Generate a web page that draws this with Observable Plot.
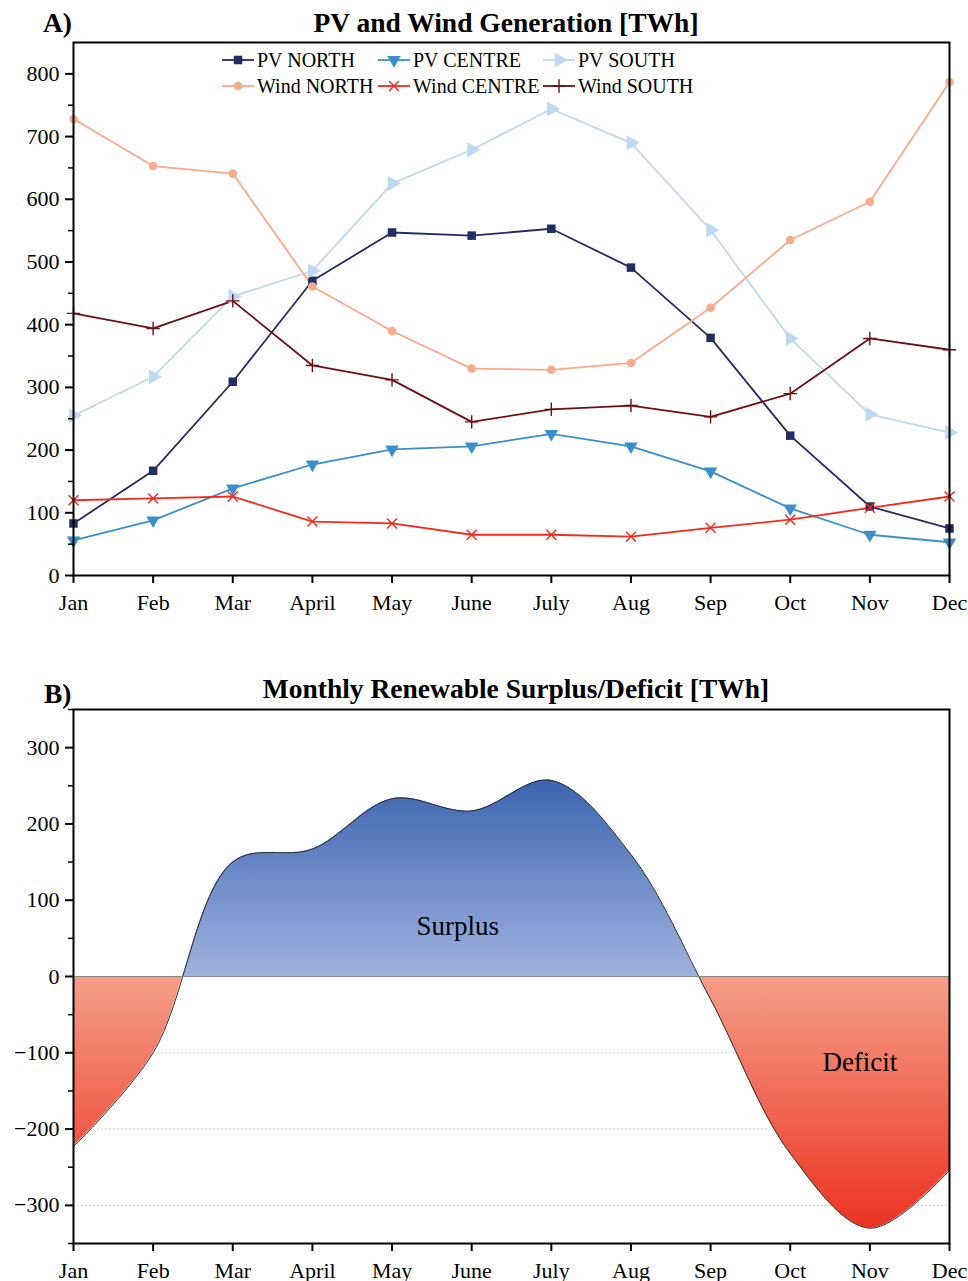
<!DOCTYPE html>
<html><head><meta charset="utf-8">
<script src="https://cdn.jsdelivr.net/npm/d3@7"></script>
<script src="https://cdn.jsdelivr.net/npm/@observablehq/plot@0.6"></script>
<style>
html,body{margin:0;padding:0;background:#fff;overflow:hidden;}
#root{position:relative;width:968px;height:1281px;font-family:"Liberation Serif","Times New Roman",serif;color:#000;}
.abs{position:absolute;white-space:nowrap;}
.title{font-weight:bold;font-size:27.5px;line-height:27px;}
.legtxt{font-size:20px;line-height:24px;height:24px;}
</style></head><body><div id="root"></div>
<script>
// ---------- data ----------
const months = ["Jan","Feb","Mar","April","May","June","July","Aug","Sep","Oct","Nov","Dec"];
const pvNorth    = [83,167,309,470,547,542,553,491,379,223,110,75];
const pvCentre   = [56,88,139,177,201,206,226,206,166,107,65,53];
const pvSouth    = [255,317,445,486,625,679,744,690,551,378,257,228];
const windNorth  = [728,653,641,461,390,330,328,339,427,535,596,787];
const windCentre = [120,123,126,86,83,65,65,62,76,89,108,126];
const windSouth  = [418,394,438,335,312,245,265,271,253,290,378,360];
const seriesNames = ["PV NORTH","PV CENTRE","PV SOUTH","Wind NORTH","Wind CENTRE","Wind SOUTH"];
const balance = [-223,-100,150,167,233,217,257,160,-30,-232,-330,-254];
const yTicksA = [0,100,200,300,400,500,600,700,800];
const yTicksB = [-300,-200,-100,0,100,200,300];
const gridB = [-100,-200,-300];
const titleA = "PV and Wind Generation [TWh]";
const titleB = "Monthly Renewable Surplus/Deficit [TWh]";

// ---------- styles ----------
const seriesValues = [pvNorth,pvCentre,pvSouth,windNorth,windCentre,windSouth];
const colors  = ["#242d63","#3a8fcb","#bdd8f1","#f8aa8c","#f42a1e","#6c1014"];
const symbols = ["square","triangle","triangle","circle","times","plus"];
const rotates = [0,180,90,0,0,0];
const radii   = [4.8,5.0,5.6,4.3,4.6,4.4];
const filled  = [true,true,true,true,false,false];

const rowsA = seriesNames.flatMap((s,i)=>months.map((m,j)=>({series:s, month:m, value:seriesValues[i][j]})));
const rowsB = months.map((m,j)=>({month:m, value:balance[j]}));

const root = document.getElementById("root");
const minus = d => d < 0 ? "\u2212" + Math.abs(d) : String(d);
const baseStyle = {fontFamily:"Liberation Serif, Times New Roman, serif", fontSize:"22px", color:"black", background:"transparent", overflow:"visible", position:"absolute", left:"0px"};
const W = 968, ML = 73, MR = 19;
const xScale = {type:"point", domain:months, padding:0, round:false, range:[ML, W-MR]};

// ---------- panel A ----------
const seriesMarks = [];
seriesNames.forEach((s,i)=>{
  const d = rowsA.filter(r=>r.series===s);
  seriesMarks.push(Plot.line(d,{x:"month",y:"value",stroke:colors[i],strokeWidth:1.8}));
});
seriesNames.forEach((s,i)=>{
  const d = rowsA.filter(r=>r.series===s);
  seriesMarks.push(Plot.dot(d,{x:"month",y:"value",symbol:symbols[i],r:radii[i],rotate:rotates[i],
    fill: filled[i]?colors[i]:"none", stroke: filled[i]?"none":colors[i], strokeWidth:1.4}));
});

const plotA = Plot.plot({
  width:W, height:625, marginLeft:ML, marginRight:MR, marginTop:42, marginBottom:50,
  style: {...baseStyle, top:"0px"},
  x: xScale,
  y:{domain:[0,850]},
  marks:[
    ...seriesMarks,
    Plot.axisY({ticks:yTicksA, tickSize:8, tickPadding:6, strokeWidth:2, label:null}),
    Plot.axisY({ticks:d3.range(50,800,100), tickSize:5, tickFormat:()=>"", strokeWidth:1.5, label:null}),
    Plot.axisX({tickSize:8, tickPadding:11, strokeWidth:2, label:null}),
    Plot.frame({stroke:"black", strokeWidth:2})
  ]
});
root.appendChild(plotA);

// ---------- panel B ----------
const plotB = Plot.plot({
  width:W, height:631, marginLeft:ML, marginRight:MR, marginTop:59, marginBottom:38,
  style: {...baseStyle, top:"650px"},
  x: xScale,
  y:{domain:[-350,350]},
  marks:[
    Plot.ruleY(gridB,{stroke:"#c4c4c4", strokeWidth:1, strokeDasharray:"1.5,2.5"}),
    Plot.areaY(rowsB,{x:"month", y:"value", curve:"catmull-rom", fill:"url(#balGrad)"}),
    Plot.lineY(rowsB,{x:"month", y:"value", curve:"catmull-rom", stroke:"#2a2a2a", strokeWidth:1}),
    Plot.ruleY([0],{stroke:"#8a8a8a", strokeWidth:1.2}),
    Plot.text(["Surplus"],{x:()=>"June", y:()=>66, text:d=>d, dx:-14, fontSize:27}),
    Plot.text(["Deficit"],{x:()=>"Nov", y:()=>-112, text:d=>d, dx:-10, fontSize:27}),
    Plot.axisY({ticks:yTicksB, tickSize:8, tickPadding:6, strokeWidth:2, tickFormat:minus, label:null}),
    Plot.axisY({ticks:d3.range(-350,351,100), tickSize:5, tickFormat:()=>"", strokeWidth:1.5, label:null}),
    Plot.axisX({tickSize:8, tickPadding:11, strokeWidth:2, label:null}),
    Plot.frame({stroke:"black", strokeWidth:2})
  ]
});
{
  const sy = plotB.scale("y");
  const ys = d3.scaleLinear(sy.domain, sy.range);
  const yTop = ys(260), yZero = ys(0), yBot = ys(-330);
  const off = (yZero - yTop) / (yBot - yTop);
  const defs = d3.select(plotB).insert("defs", ":first-child");
  const g = defs.append("linearGradient").attr("id","balGrad").attr("gradientUnits","userSpaceOnUse")
    .attr("x1",0).attr("x2",0).attr("y1",yTop).attr("y2",yBot);
  [[0,"#3a64b0"],[off,"#a0b2df"],[off,"#f49f88"],[1,"#ec3222"]].forEach(([o,c])=>
    g.append("stop").attr("offset",o).attr("stop-color",c));
}
root.appendChild(plotB);

// ---------- titles ----------
function addText(txt, cls, left, top, center){
  const el = document.createElement("div");
  el.className = "abs " + cls;
  el.textContent = txt;
  el.style.left = left + "px"; el.style.top = top + "px";
  if (center) el.style.transform = "translateX(-50%)";
  root.appendChild(el);
  return el;
}
addText("A)", "title", 43, 9, false);
addText(titleA, "title", 506, 9, true);
addText("B)", "title", 44, 680, false);
addText(titleB, "title", 516, 675, true);

// ---------- legend ----------
const legCols = [257, 413, 578];
const legRows = [60, 86];
const symMap = {square:d3.symbolSquare, triangle:d3.symbolTriangle, circle:d3.symbolCircle, times:d3.symbolTimes, plus:d3.symbolPlus};
seriesNames.forEach((s,i)=>{
  const col = i % 3, row = Math.floor(i/3);
  const tx = legCols[col], cy = legRows[row];
  const sw = d3.create("svg").attr("width",34).attr("height",20)
    .style("position","absolute").style("left",(tx-36)+"px").style("top",(cy-10)+"px").style("overflow","visible");
  sw.append("line").attr("x1",1).attr("x2",33).attr("y1",10).attr("y2",10).attr("stroke",colors[i]).attr("stroke-width",1.8);
  sw.append("path").attr("d", d3.symbol(symMap[symbols[i]], Math.PI*radii[i]*radii[i])())
    .attr("transform",`translate(17,10) rotate(${rotates[i]})`)
    .attr("fill", filled[i]?colors[i]:"none").attr("stroke", filled[i]?"none":colors[i]).attr("stroke-width",1.4);
  root.appendChild(sw.node());
  addText(s, "legtxt", tx, cy-12, false);
});
</script></body></html>
